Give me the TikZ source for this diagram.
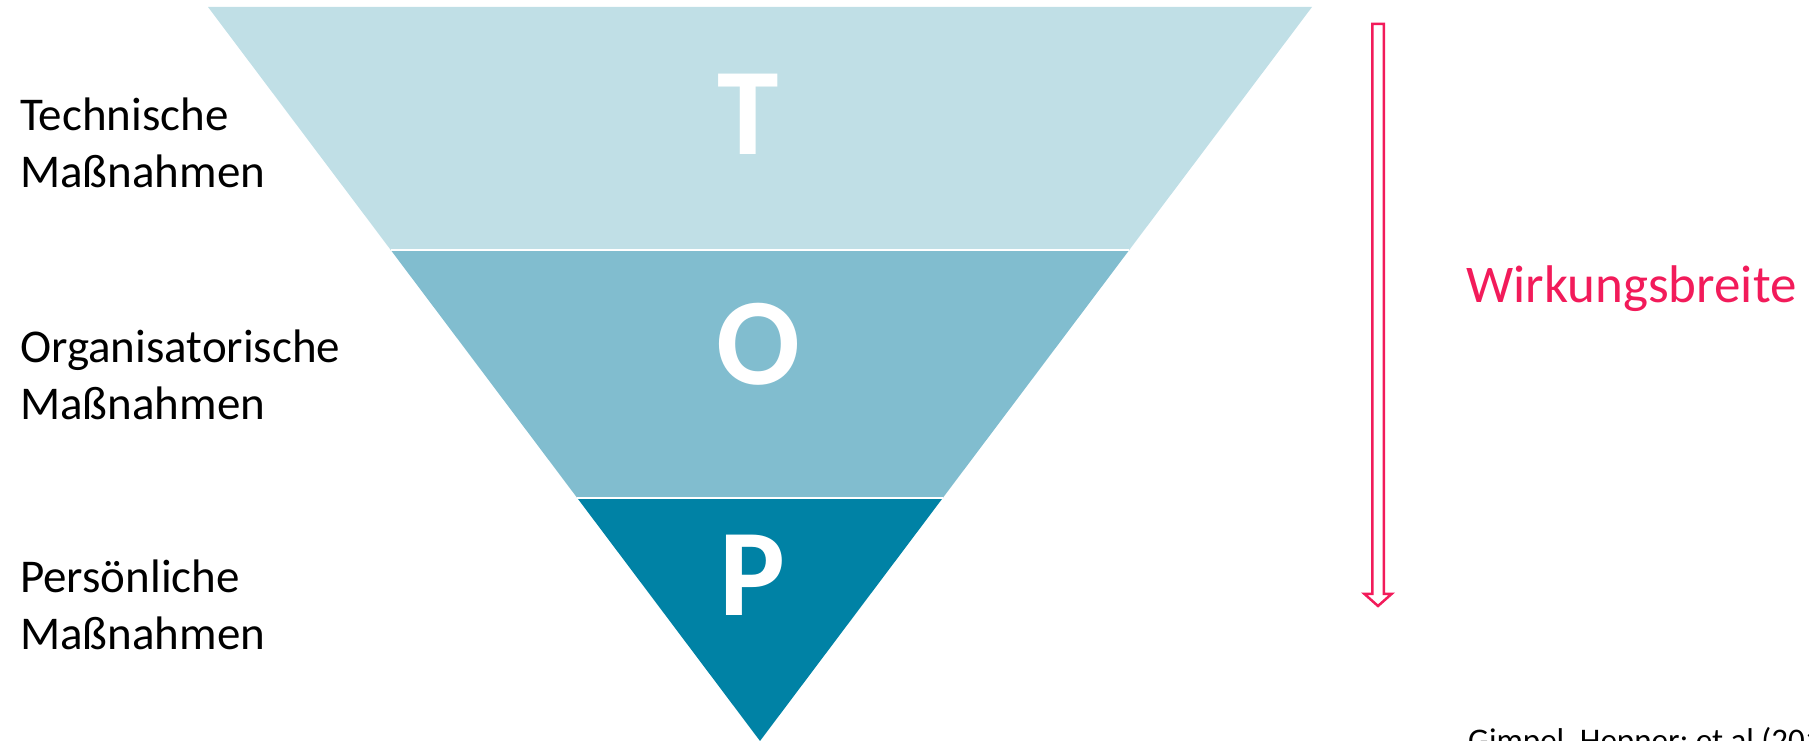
\documentclass[tikz,border=0pt]{standalone}
\usepackage{fontspec}
\setmainfont{Carlito}
\usetikzlibrary{shapes,arrows,positioning,calc}

\definecolor{bandT}{RGB}{192,223,230}
\definecolor{bandO}{RGB}{129,189,207}
\definecolor{bandP}{RGB}{0,130,165}
\definecolor{wirkrot}{RGB}{242,27,90}

\begin{document}
\begin{tikzpicture}[
    x=1pt, y=1pt,
    band/.style={fill=#1},
    letter node/.style={inner sep=0, anchor=base, text=white, font=\fontsize{124}{124}\selectfont\bfseries},
    label node/.style={inner sep=0, anchor=base west, align=left, font=\fontsize{47}{57}\selectfont},
    pfeil line/.style={draw=wirkrot, fill=white, line width=2.5pt, line join=miter}
]
\useasboundingbox (0,0) rectangle (1809,741);

% Triangle
\coordinate (topL) at (208,734);
\coordinate (topR) at (1312,734);
\coordinate (apex) at (760,0);
\coordinate (upL) at ($(apex)!0.669!(topL)$);
\coordinate (upR) at ($(apex)!0.669!(topR)$);
\coordinate (lowL) at ($(apex)!0.331!(topL)$);
\coordinate (lowR) at ($(apex)!0.331!(topR)$);

% Bands
\path[band=bandT] (topL) -- (topR) -- (upR) -- (upL) -- cycle;
\path[band=bandO] (upL) -- (upR) -- (lowR) -- (lowL) -- cycle;
\path[band=bandP] (lowL) -- (lowR) -- (apex) -- cycle;
\draw[white, line width=2pt] (upL) -- (upR);
\draw[white, line width=2pt] (lowL) -- (lowR);

% Letters
\node[letter node] (T) at (748,586) {T};
\node[letter node] (O) at (758,356) {O};
\node[letter node] (P) at (752,125) {P};

% Labels
\node[label node] (techn) at (20,553) {Technische\\Maßnahmen};
\node[label node] (orga) at (20,321) {Organisatorische\\Maßnahmen};
\node[label node] (pers) at (20,91) {Persönliche\\Maßnahmen};

% Arrow
\coordinate (pfeilTop) at (1378,717);
\coordinate (pfeilTip) at (1378,135);
\draw[pfeil line] ($(pfeilTop)+(-5.75,0)$) -- ($(pfeilTop)+(5.75,0)$)
    -- ($(pfeilTip)+(5.75,12)$) -- ($(pfeilTip)+(13.5,12)$) -- (pfeilTip)
    -- ($(pfeilTip)+(-13.5,12)$) -- ($(pfeilTip)+(-5.75,12)$) -- cycle;
\node[inner sep=0, anchor=base west, text=wirkrot, font=\fontsize{53}{64}\selectfont] (wirk) at (1466,438) {Wirkungsbreite};

% Source
\node[inner sep=0, anchor=base west, font=\fontsize{33}{40}\selectfont] (quelle) at (1468,-11) {Gimpel, Hepner; et al (201};

\end{tikzpicture}
\end{document}
